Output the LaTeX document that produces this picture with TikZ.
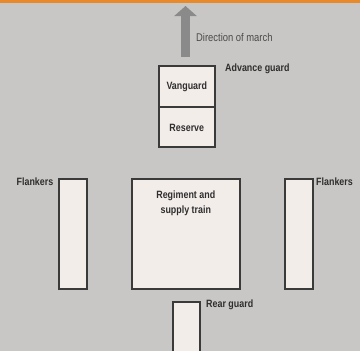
\documentclass[tikz,border=0pt]{standalone}
\usepackage{fontspec}
\setmainfont{Liberation Sans}
\newfontfamily\narrowsans[FakeStretch=0.84]{Liberation Sans}
\usetikzlibrary{arrows.meta}
\definecolor{paper}{HTML}{C9C7C5}
\definecolor{boxfill}{HTML}{F3EDEA}
\definecolor{boxline}{HTML}{3A3A3A}
\definecolor{inkdark}{HTML}{2E2E2E}
\definecolor{inkgrey}{HTML}{4A4A4A}
\definecolor{arrowgrey}{HTML}{8A8A8A}
\definecolor{band}{HTML}{E8892A}
\tikzset{
  unitbox/.style={draw=boxline, line width=1.6pt, fill=boxfill, inner sep=0pt,
    anchor=north west},
  boxtext/.style={font=\narrowsans\fontsize{10.6}{15.5}\selectfont\bfseries, text=inkdark, align=center},
  sidelabel/.style={font=\narrowsans\fontsize{10.6}{12}\selectfont\bfseries, text=inkdark, inner sep=0pt},
  marchlabel/.style={font=\narrowsans\fontsize{11.2}{12}\selectfont, text=inkgrey, inner sep=0pt},
  marcharrow/.style={draw=arrowgrey, line width=9pt,
    -{Triangle[length=10pt,width=22pt]}}
}
\begin{document}
\begin{tikzpicture}[x=1pt,y=-1pt]
  \useasboundingbox (0,0) rectangle (360,351);
  \clip (0,0) rectangle (360,351);
  \fill[paper] (0,0) rectangle (360,351);
  \fill[band] (0,0) rectangle (360,2.5);

  % direction of march
  \coordinate (marchfoot) at (185.5,57);
  \coordinate (marchtip) at (185.5,6);
  \draw[marcharrow] (marchfoot) -- (marchtip);
  \node[marchlabel, anchor=west] (marchtext) at (196,37) {Direction of march};

  % advance guard column
  \node[unitbox, minimum width=56pt, minimum height=41pt] (vanguard) at (158,65) {};
  \node[unitbox, minimum width=56pt, minimum height=40pt] (reserve) at (158,106) {};
  \node[boxtext] (vanguardtext) at (vanguard.center) {Vanguard};
  \node[boxtext] (reservetext) at ([yshift=-1pt]reserve.center) {Reserve};
  \node[sidelabel, anchor=west] (advancetext) at (225,69) {Advance guard};

  % main body and flankers
  \node[unitbox, minimum width=28pt, minimum height=110pt] (leftflank) at (58,178) {};
  \node[unitbox, minimum width=108pt, minimum height=110pt] (regiment) at (131,178) {};
  \node[unitbox, minimum width=28pt, minimum height=110pt] (rightflank) at (284,178) {};
  \node[boxtext, anchor=north] (regimenttext) at ([yshift=-9pt]regiment.north)
    {Regiment and\\supply train};
  \node[sidelabel, anchor=east] (leftflanktext) at (53.5,182) {Flankers};
  \node[sidelabel, anchor=west] (rightflanktext) at (316,182) {Flankers};

  % rear guard
  \node[unitbox, minimum width=27pt, minimum height=70pt] (rearguard) at (172,301) {};
  \node[sidelabel, anchor=west] (reartext) at (206,305) {Rear guard};
\end{tikzpicture}
\end{document}
